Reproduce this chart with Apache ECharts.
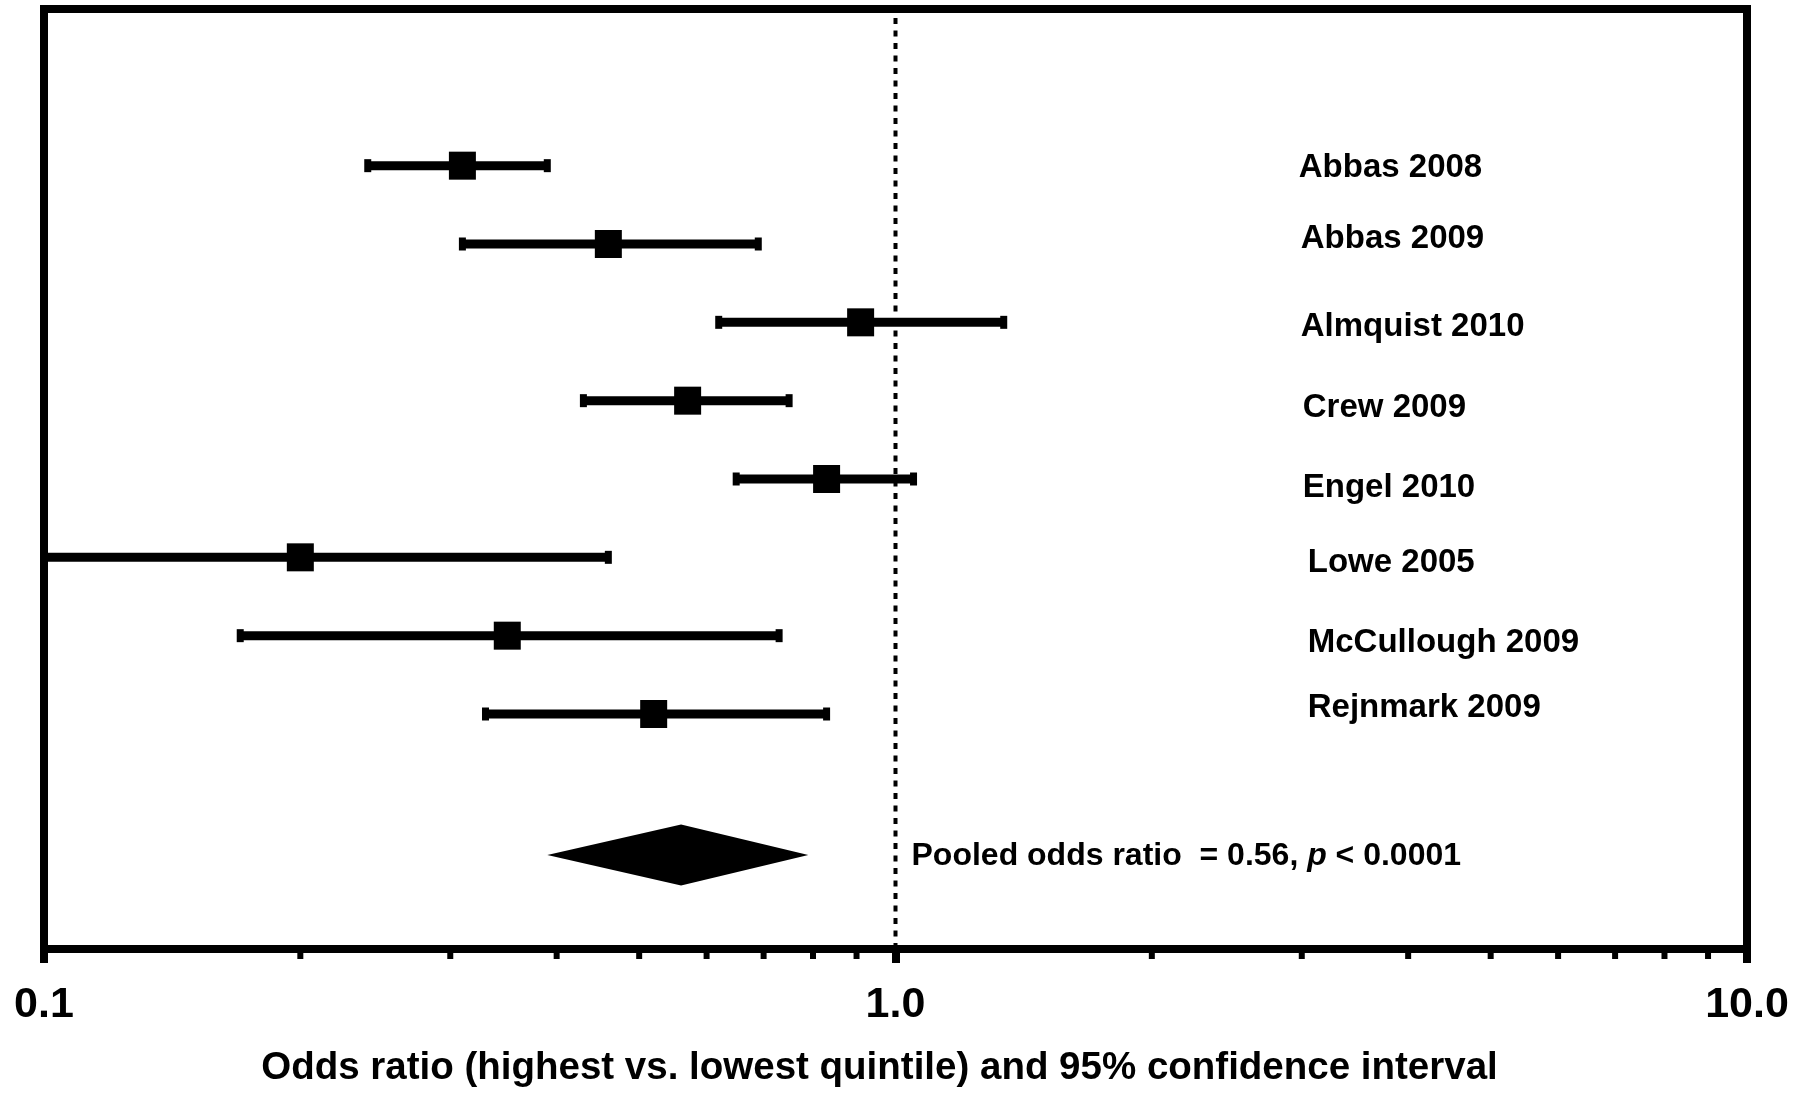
<!DOCTYPE html>
<html>
<head>
<meta charset="utf-8">
<script src="https://cdn.jsdelivr.net/npm/echarts@6/dist/echarts.min.js"></script>
<style>
  html, body { margin: 0; padding: 0; background: #fff; }
  #chart { width: 1815px; height: 1093px; }
</style>
</head>
<body>
<div id="chart"></div>
<script>
// Study-level odds ratios with 95% confidence limits
const studies = ['Abbas 2008', 'Abbas 2009', 'Almquist 2010', 'Crew 2009', 'Engel 2010', 'Lowe 2005', 'McCullough 2009', 'Rejnmark 2009'];
const oddsRatio = [0.31, 0.46, 0.91, 0.57, 0.83, 0.20, 0.35, 0.52];
const ciLower   = [0.24, 0.31, 0.62, 0.43, 0.65, 0.08, 0.17, 0.33];
const ciUpper   = [0.39, 0.69, 1.34, 0.75, 1.05, 0.46, 0.73, 0.83];

// Pooled estimate
const pooledOR = 0.56;
const pooledLower = 0.39;
const pooledUpper = 0.79;
const pooledText = 'Pooled odds ratio  = 0.56, ';
const pooledP = '< 0.0001';

// Axis ticks
const majorTicks = [0.1, 1, 10];
const minorTicks = [0.2, 0.3, 0.4, 0.5, 0.6, 0.7, 0.8, 0.9, 2, 3, 4, 5, 6, 7, 8, 9];
const axisTitle = 'Odds ratio (highest vs. lowest quintile) and 95% confidence interval';

// Layout: rows stacked top to bottom, pooled diamond near the bottom
const rowY = studies.map((_, i) => 10 - i);
const pooledY = 1.2;
const labelAnchorX = 3.0;
const labelNudge = [[-3, 2], [-1, -5], [-1, 5], [1, 7], [1, 9], [6, 6], [6, 7], [6, -6]];

const FONT = '"Liberation Sans", Arial, sans-serif';

const forestData = studies.map((s, i) => [ciLower[i], oddsRatio[i], ciUpper[i], rowY[i]]);

const chart = echarts.init(document.getElementById('chart'), null, { renderer: 'canvas' });

chart.setOption({
  animation: false,
  backgroundColor: '#fff',
  grid: {
    left: 44, right: 68, top: 9, bottom: 140,
    show: true, borderColor: '#000', borderWidth: 8, backgroundColor: 'transparent'
  },
  xAxis: {
    type: 'log', logBase: 10, min: 0.1, max: 10,
    axisLine: { show: false },
    axisTick: { show: true, length: 14, lineStyle: { color: '#000', width: 8 } },
    splitLine: { show: false },
    axisLabel: {
      margin: 35, color: '#000', fontSize: 43, fontWeight: 'bold', fontFamily: FONT,
      formatter: v => (majorTicks.indexOf(v) >= 0 && v < 1 ? String(v) : v.toFixed(1))
    },
    name: axisTitle, nameLocation: 'middle', nameGap: 100,
    nameTextStyle: {
      color: '#000', fontSize: 38.5, fontWeight: 'bold', fontFamily: FONT,
      padding: [0, 32, 0, 0]
    }
  },
  yAxis: { type: 'value', min: 0, max: 12, show: false },
  series: [
    {
      // reference line at OR = 1
      type: 'line', silent: true, symbol: 'none', z: 1,
      data: [[1, 0], [1, 12]],
      lineStyle: { color: '#000', width: 4, type: [6, 6.5] }
    },
    {
      // minor tick marks of the log axis
      type: 'custom', silent: true, z: 3,
      data: minorTicks.map(v => [v, 0]),
      renderItem: (params, api) => {
        const p = api.coord([api.value(0), 0]);
        return { type: 'rect', shape: { x: p[0] - 3, y: p[1], width: 6, height: 10 }, style: { fill: '#000' } };
      }
    },
    {
      // confidence intervals and point estimates
      type: 'custom', silent: true, z: 5,
      data: forestData,
      encode: { x: [0, 1, 2], y: 3 },
      renderItem: (params, api) => {
        const y = api.value(3);
        const lo = api.coord([api.value(0), y]);
        const mid = api.coord([api.value(1), y]);
        const hi = api.coord([api.value(2), y]);
        const xMin = params.coordSys.x;
        const left = Math.max(lo[0], xMin);
        const children = [
          { type: 'rect', shape: { x: left, y: mid[1] - 4.5, width: hi[0] - left, height: 9 }, style: { fill: '#000' } },
          { type: 'rect', shape: { x: hi[0] - 3.5, y: mid[1] - 6.5, width: 7, height: 13 }, style: { fill: '#000' } },
          { type: 'rect', shape: { x: mid[0] - 13.5, y: mid[1] - 14, width: 27, height: 28 }, style: { fill: '#000' } }
        ];
        if (lo[0] >= xMin) {
          children.push({ type: 'rect', shape: { x: lo[0] - 3.5, y: mid[1] - 6.5, width: 7, height: 13 }, style: { fill: '#000' } });
        }
        return { type: 'group', children };
      }
    },
    {
      // pooled estimate diamond
      type: 'custom', silent: true, z: 5,
      data: [[pooledLower, pooledOR, pooledUpper, pooledY]],
      encode: { x: [0, 1, 2], y: 3 },
      renderItem: (params, api) => {
        const y = api.value(3);
        const lo = api.coord([api.value(0), y]);
        const mid = api.coord([api.value(1), y]);
        const hi = api.coord([api.value(2), y]);
        return {
          type: 'polygon',
          shape: { points: [[lo[0], lo[1]], [mid[0], mid[1] - 30.5], [hi[0], hi[1]], [mid[0], mid[1] + 30.5]] },
          style: { fill: '#000' }
        };
      }
    },
    {
      // study names
      type: 'custom', silent: true, z: 6,
      data: studies.map((s, i) => [labelAnchorX, rowY[i], i]),
      renderItem: (params, api) => {
        const i = api.value(2);
        const p = api.coord([api.value(0), api.value(1)]);
        return {
          type: 'text',
          x: p[0] + labelNudge[i][0], y: p[1] + labelNudge[i][1],
          style: {
            text: studies[i], fill: '#000', font: 'bold 33px ' + FONT,
            align: 'left', verticalAlign: 'middle'
          }
        };
      }
    },
    {
      // pooled result caption
      type: 'custom', silent: true, z: 6,
      data: [[1, pooledY]],
      renderItem: (params, api) => {
        const p = api.coord([api.value(0), api.value(1)]);
        return {
          type: 'text',
          x: p[0] + 16, y: p[1] + 1,
          style: {
            text: '{a|' + pooledText + '}{b|p}{a| ' + pooledP + '}',
            align: 'left', verticalAlign: 'middle',
            rich: {
              a: { fontSize: 32, fontWeight: 'bold', fontFamily: FONT, fill: '#000', color: '#000' },
              b: { fontSize: 32, fontWeight: 'bold', fontStyle: 'italic', fontFamily: FONT, fill: '#000', color: '#000' }
            }
          }
        };
      }
    }
  ]
});
</script>
</body>
</html>
